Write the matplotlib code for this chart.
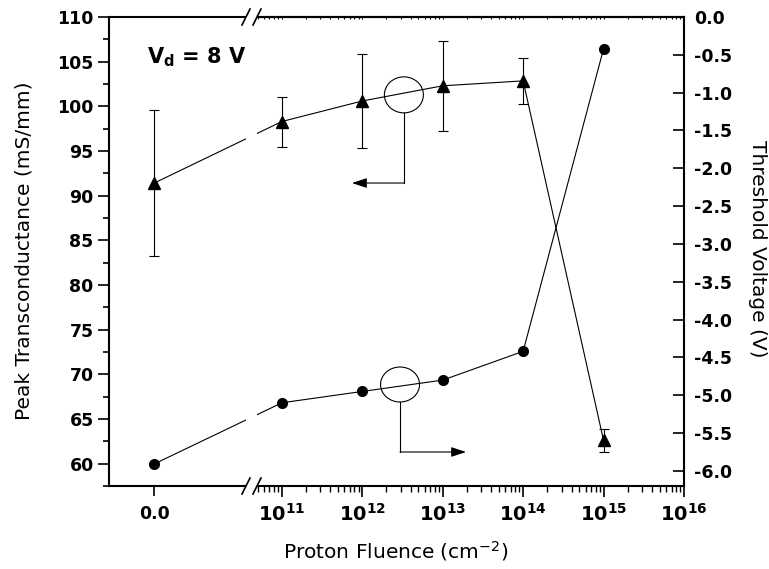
import matplotlib

matplotlib.use("Agg")
import matplotlib.pyplot as plt
from matplotlib.lines import Line2D
from matplotlib.patches import ConnectionPatch, Ellipse, Rectangle
from matplotlib.ticker import FixedLocator, LogLocator, MultipleLocator, NullFormatter

plt.rcParams["font.family"] = ["DejaVu Sans"]
plt.rcParams["axes.unicode_minus"] = False
plt.rcParams["mathtext.fontset"] = "dejavusans"

# data
fluence = [0.0, 1e11, 1e12, 1e13, 1e14, 1e15]
gm = [91.4, 98.3, 100.6, 102.3, 102.85, 62.6]          # peak transconductance (mS/mm)
gm_err = [8.2, 2.8, 5.3, 5.05, 2.55, 1.25]
vth = [-5.91, -5.10, -4.95, -4.80, -4.42, -0.42]       # threshold voltage (V)

log_ticks = [1e11, 1e12, 1e13, 1e14, 1e15, 1e16]
log_labels = [r"$\mathbf{10^{11}}$", r"$\mathbf{10^{12}}$", r"$\mathbf{10^{13}}$",
              r"$\mathbf{10^{14}}$", r"$\mathbf{10^{15}}$", r"$\mathbf{10^{16}}$"]

W, H = 769, 569
fig = plt.figure(figsize=(W / 100, H / 100), dpi=100)


def fx(x):
    return x / W


def fy(y):
    return 1 - y / H


X0, XB0, XB1, X1 = 109, 246, 257, 684
TOP, BOT = 17, 486
h = (BOT - TOP) / H
axL = fig.add_axes([fx(X0), fy(BOT), fx(XB0 - X0), h])
axR = fig.add_axes([fx(XB1), fy(BOT), fx(X1 - XB1), h])
axL2 = axL.twinx()
axR2 = axR.twinx()

SPW = 1.5
kw = dict(color="black", lw=0.8)
mk_tri = dict(marker="^", ms=8, color="black", ls="none")
mk_dot = dict(marker="o", ms=7, color="black", ls="none")
ekw = dict(ecolor="black", elinewidth=0.8, capsize=3.8, capthick=0.8)

# left (linear) segment: only the zero-fluence point
axL.errorbar(fluence[:1], gm[:1], yerr=gm_err[:1], **mk_tri, **ekw)
axL2.plot(fluence[:1], vth[:1], **mk_dot)

# right (log) segment
axR.plot(fluence[1:], gm[1:], **kw)
axR.errorbar(fluence[1:], gm[1:], yerr=gm_err[1:], **mk_tri, **ekw)
axR2.plot(fluence[1:], vth[1:], **kw)
axR2.plot(fluence[1:], vth[1:], **mk_dot)

for ax in (axL, axR):
    ax.set_ylim(57.5, 110)
for ax in (axL2, axR2):
    ax.set_ylim(-6.2, 0.0)
axL.set_xlim(-0.45, 0.92)
axR.set_xscale("log")
axR.set_xlim(10 ** 10.691, 1e16)

# segments across the axis break
for a_src, a_dst, ys in ((axL, axR, gm), (axL2, axR2, vth)):
    con = ConnectionPatch(xyA=(fluence[0], ys[0]), coordsA=a_src.transData,
                          xyB=(fluence[1], ys[1]), coordsB=a_dst.transData,
                          color="black", lw=0.8, zorder=1)
    fig.add_artist(con)

fig.add_artist(Rectangle((fx(XB0), fy(BOT + 1)), fx(XB1 - XB0), (BOT - TOP + 2) / H,
                         transform=fig.transFigure, facecolor="white", edgecolor="none", zorder=2))
for yb in (TOP, BOT):
    for xc in (XB0, XB1):
        fig.add_artist(Line2D([fx(xc - 4), fx(xc + 4)], [fy(yb + 8), fy(yb - 8)],
                              transform=fig.transFigure, color="black", lw=1.2, zorder=3))

# spines
for ax in (axL2, axR2):
    for s in ax.spines.values():
        s.set_visible(False)
axR2.spines["right"].set_visible(True)
axL.spines["right"].set_visible(False)
axR.spines["left"].set_visible(False)
axR.spines["right"].set_visible(False)
for ax in (axL, axR, axR2):
    for s in ax.spines.values():
        s.set_linewidth(SPW)

tick_font = dict(fontsize=12.5, fontweight="bold")

# left segment ticks
axL.xaxis.set_major_locator(FixedLocator([0.0]))
axL.set_xticklabels(["0.0"], **tick_font)
axL.tick_params(axis="x", direction="out", length=7, width=1.2, pad=7, top=False)
axL.yaxis.set_major_locator(MultipleLocator(5))
axL.yaxis.set_minor_locator(MultipleLocator(2.5))
axL.set_yticks([60, 65, 70, 75, 80, 85, 90, 95, 100, 105, 110])
axL.set_yticklabels([str(v) for v in axL.get_yticks()], **tick_font)
axL.tick_params(axis="y", which="major", direction="out", length=8, width=1.2, pad=3)
axL.tick_params(axis="y", which="minor", direction="out", length=4.5, width=1.2)
axL2.set_yticks([])

# right (log) ticks
axR.xaxis.set_major_locator(FixedLocator(log_ticks))
axR.set_xticklabels(log_labels, fontsize=14, fontweight="bold")
axR.xaxis.set_minor_locator(LogLocator(base=10, subs=range(2, 10), numticks=20))
axR.xaxis.set_minor_formatter(NullFormatter())
axR.tick_params(axis="x", which="major", direction="out", length=8, width=1.2, pad=4)
axR.tick_params(axis="x", which="minor", direction="out", length=4.5, width=1.0)
axR.set_yticks([])
top_ax = axR.secondary_xaxis("top")
top_ax.xaxis.set_major_locator(FixedLocator(log_ticks))
top_ax.xaxis.set_minor_locator(LogLocator(base=10, subs=range(2, 10), numticks=20))
top_ax.xaxis.set_major_formatter(NullFormatter())
top_ax.xaxis.set_minor_formatter(NullFormatter())
top_ax.tick_params(axis="x", which="both", direction="in", length=1.5, width=0.8)
top_ax.spines["top"].set_linewidth(SPW)

yt = [0.0, -0.5, -1.0, -1.5, -2.0, -2.5, -3.0, -3.5, -4.0, -4.5, -5.0, -5.5, -6.0]
axR2.set_yticks(yt)
axR2.set_yticklabels([f"{v:.1f}" for v in yt], **tick_font)
axR2.tick_params(axis="y", direction="in", length=8, width=1.2, pad=7)

# labels
fig.text(fx(396), fy(551), "Proton Fluence (cm$^{-2}$)", fontsize=14.5, ha="center", va="center")
fig.text(fx(24), fy(251), "Peak Transconductance (mS/mm)", fontsize=14.5, rotation=90,
         ha="center", va="center")
fig.text(fx(757), fy(249), "Threshold Voltage (V)", fontsize=14.5, rotation=270,
         ha="center", va="center")
fig.text(fx(147), fy(63), r"$\mathbf{V_d}$ = 8 V", fontsize=15, fontweight="bold",
         ha="left", va="baseline")

# circle + arrow annotations
axR.add_patch(Ellipse((0.344, 0.834), 0.0913, 0.0768, transform=axR.transAxes,
                      facecolor="none", edgecolor="black", lw=0.8, zorder=5))
axR.plot([0.344, 0.344], [0.7955, 0.646], transform=axR.transAxes, **kw)
axR.annotate("", xy=(0.2225, 0.646), xytext=(0.344, 0.646), xycoords="axes fraction",
             arrowprops=dict(arrowstyle="-|>,head_length=0.6,head_width=0.2",
                             color="black", lw=0.8, mutation_scale=15, shrinkA=0, shrinkB=0))
axR.add_patch(Ellipse((0.335, 0.2164), 0.0913, 0.0746, transform=axR.transAxes,
                      facecolor="none", edgecolor="black", lw=0.8, zorder=5))
axR.plot([0.335, 0.335], [0.179, 0.0725], transform=axR.transAxes, **kw)
axR.annotate("", xy=(0.4895, 0.0725), xytext=(0.335, 0.0725), xycoords="axes fraction",
             arrowprops=dict(arrowstyle="-|>,head_length=0.6,head_width=0.2",
                             color="black", lw=0.8, mutation_scale=15, shrinkA=0, shrinkB=0))

fig.savefig("out.png", dpi=100)
